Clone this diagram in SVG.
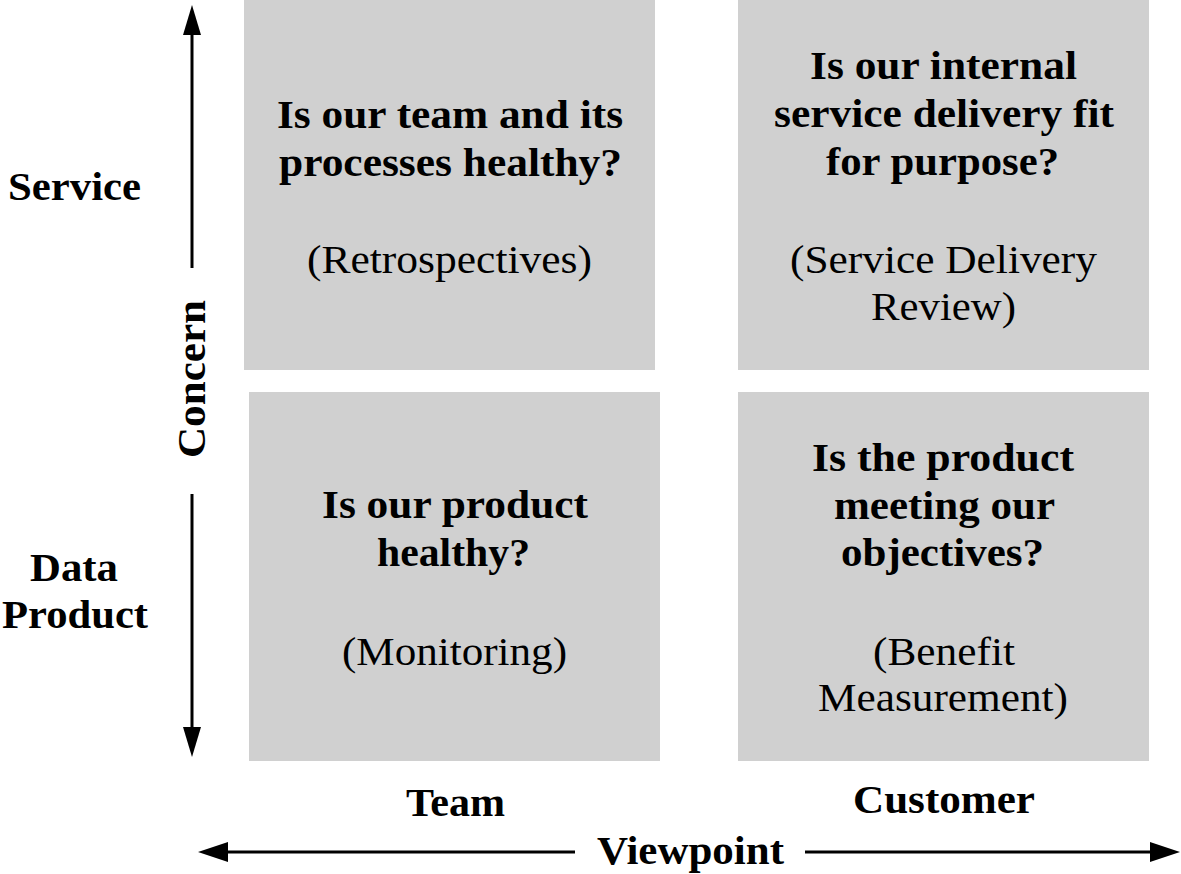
<svg xmlns="http://www.w3.org/2000/svg" width="1181" height="874" viewBox="0 0 1181 874">
<style>
.box{fill:#d0d0d0}
.b{font-family:"Liberation Serif","Times New Roman",serif;font-weight:bold;font-size:41px;fill:#000;text-anchor:middle}
.r{font-family:"Liberation Serif","Times New Roman",serif;font-size:41px;fill:#000;text-anchor:middle}
.ax{stroke:#000;stroke-width:3;fill:none}
</style>
<rect width="1181" height="874" fill="#fff"/>
<g id="q-team-service">
<rect class="box" x="244" y="0" width="411" height="370"/>
<text class="b" x="450" y="128" textLength="346" lengthAdjust="spacingAndGlyphs">Is our team and its</text>
<text class="b" x="450.5" y="176" textLength="343" lengthAdjust="spacingAndGlyphs">processes healthy?</text>
<text class="r" x="449.5" y="273" textLength="285" lengthAdjust="spacingAndGlyphs">(Retrospectives)</text>
</g>
<g id="q-customer-service">
<rect class="box" x="738" y="0" width="411" height="370"/>
<text class="b" x="943.5" y="79" textLength="267" lengthAdjust="spacingAndGlyphs">Is our internal</text>
<text class="b" x="944" y="127" textLength="340" lengthAdjust="spacingAndGlyphs">service delivery fit</text>
<text class="b" x="942.5" y="175" textLength="233" lengthAdjust="spacingAndGlyphs">for purpose?</text>
<text class="r" x="943.5" y="273" textLength="307" lengthAdjust="spacingAndGlyphs">(Service Delivery</text>
<text class="r" x="943.5" y="320" textLength="145" lengthAdjust="spacingAndGlyphs">Review)</text>
</g>
<g id="q-team-product">
<rect class="box" x="249" y="392" width="411" height="369"/>
<text class="b" x="455" y="518" textLength="266" lengthAdjust="spacingAndGlyphs">Is our product</text>
<text class="b" x="453.5" y="566" textLength="153" lengthAdjust="spacingAndGlyphs">healthy?</text>
<text class="r" x="454.5" y="665" textLength="225" lengthAdjust="spacingAndGlyphs">(Monitoring)</text>
</g>
<g id="q-customer-product">
<rect class="box" x="738" y="392" width="411" height="369"/>
<text class="b" x="943" y="471" textLength="262" lengthAdjust="spacingAndGlyphs">Is the product</text>
<text class="b" x="944.5" y="519" textLength="221" lengthAdjust="spacingAndGlyphs">meeting our</text>
<text class="b" x="942.5" y="566" textLength="203" lengthAdjust="spacingAndGlyphs">objectives?</text>
<text class="r" x="944" y="665" textLength="142" lengthAdjust="spacingAndGlyphs">(Benefit</text>
<text class="r" x="943" y="711" textLength="250" lengthAdjust="spacingAndGlyphs">Measurement)</text>
</g>
<g id="labels">
<text class="b" x="74.5" y="200" textLength="133" lengthAdjust="spacingAndGlyphs">Service</text>
<text class="b" x="74" y="581" textLength="88" lengthAdjust="spacingAndGlyphs">Data</text>
<text class="b" x="75" y="628" textLength="146" lengthAdjust="spacingAndGlyphs">Product</text>
<text class="b" transform="translate(205,379) rotate(-90)" x="0" y="0" textLength="158" lengthAdjust="spacingAndGlyphs">Concern</text>
<text class="b" x="455.5" y="816" textLength="99" lengthAdjust="spacingAndGlyphs">Team</text>
<text class="b" x="944" y="813" textLength="182" lengthAdjust="spacingAndGlyphs">Customer</text>
<text class="b" x="690.5" y="864" textLength="187" lengthAdjust="spacingAndGlyphs">Viewpoint</text>
</g>
<g id="connectors">
<path d="M192,268 L192,34" class="ax"/>
<path d="M183,35 L192,5 L201,35 Z" fill="#000"/>
<path d="M192,494 L192,728" class="ax"/>
<path d="M183,727 L192,757 L201,727 Z" fill="#000"/>
<path d="M575,852 L226,852" class="ax"/>
<path d="M228,842 L198,852 L228,862 Z" fill="#000"/>
<path d="M805,852 L1152,852" class="ax"/>
<path d="M1150,842 L1180,852 L1150,862 Z" fill="#000"/>
</g>
</svg>
